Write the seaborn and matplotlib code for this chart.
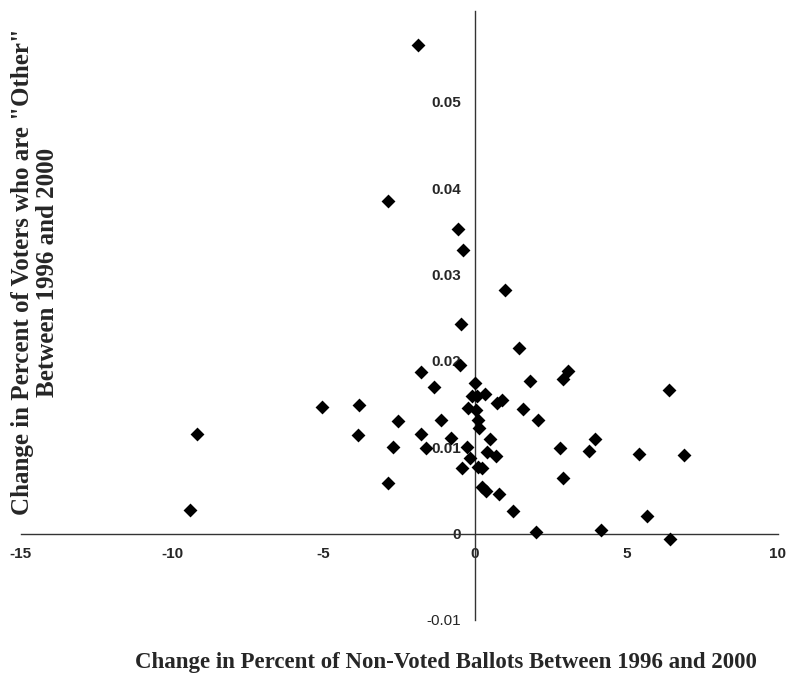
import matplotlib
matplotlib.use("Agg")
import matplotlib.pyplot as plt
import seaborn as sns
import pandas as pd

# change in non-voted ballots (x) vs change in "other" voters (y)
nonvoted_change = [
    -9.41, -9.19, -5.06, -3.83, -3.87, -2.88, -2.70, -2.53, -1.80, -1.80,
    -1.63, -1.36, -1.13, -0.79, -0.50, -0.44, -0.27, -0.17, -0.24, -0.11,
    0.00, 0.05, 0.03, 0.11, 0.13, 0.33, 0.50, 0.38, 0.69, 0.09,
    0.23, 0.22, 0.35, 0.79, 1.24, 0.72, 0.88, 1.45, 1.80, 1.57,
    2.07, 2.80, 2.90, 2.01, 3.08, 2.89, 6.40, 3.97, 3.75, 5.41,
    6.91, 5.69, 4.15, 6.44, -1.87, -2.87, -0.58, -0.41, -0.46, 0.99,
]
other_change = [
    0.0027, 0.0115, 0.0146, 0.0149, 0.0114, 0.0059, 0.0100, 0.0130, 0.0187, 0.0115,
    0.0099, 0.0170, 0.0132, 0.0111, 0.0195, 0.0076, 0.0100, 0.0088, 0.0145, 0.0159,
    0.0174, 0.0159, 0.0143, 0.0132, 0.0122, 0.0162, 0.0110, 0.0094, 0.0090, 0.0077,
    0.0076, 0.0054, 0.0049, 0.0046, 0.0026, 0.0151, 0.0155, 0.0215, 0.0177, 0.0144,
    0.0132, 0.0099, 0.0064, 0.0002, 0.0188, 0.0179, 0.0166, 0.0110, 0.0095, 0.0092,
    0.0091, 0.0020, 0.0004, -0.0006, 0.0566, 0.0385, 0.0353, 0.0328, 0.0243, 0.0282,
]
x_ticks = [-15, -10, -5, 0, 5, 10]
y_ticks = [-0.01, 0, 0.01, 0.02, 0.03, 0.04, 0.05]
y_tick_labels = ["-0.01", "0", "0.01", "0.02", "0.03", "0.04", "0.05"]

df = pd.DataFrame({"x": nonvoted_change, "y": other_change})

sns.set_style("white")
fig = plt.figure(figsize=(7.9, 6.82), dpi=100)
ax = fig.add_axes([0.0262, 0.091, 0.9586, 0.893])

sns.scatterplot(data=df, x="x", y="y", marker="D", s=50, color="black",
                edgecolor="black", linewidth=0, ax=ax, zorder=3, clip_on=False)

ax.set_xlim(-15, 10)
ax.set_ylim(-0.01, 0.0605)

for side in ["top", "right"]:
    ax.spines[side].set_visible(False)
for side in ["left", "bottom"]:
    ax.spines[side].set_position(("data", 0))
    ax.spines[side].set_color("#333333")
    ax.spines[side].set_linewidth(1.0)

ax.set_xticks(x_ticks)
ax.set_xticklabels([str(t) for t in x_ticks])
ax.set_yticks(y_ticks)
ax.set_yticklabels(y_tick_labels)
ax.tick_params(axis="both", direction="out", length=4, width=0.8, color="#333333",
               labelsize=11, pad=6)
for lab in ax.get_xticklabels() + ax.get_yticklabels():
    lab.set_fontfamily("Liberation Sans")
    lab.set_fontweight("bold")
ax.get_yticklabels()[0].set_fontweight("normal")

ax.set_xlabel("")
ax.set_ylabel("")

fig.text(0.565, 0.028, "Change in Percent of Non-Voted Ballots Between 1996 and 2000",
         ha="center", va="center", fontsize=16.5, fontweight="bold",
         family="Liberation Serif")
fig.text(0.044, 0.601, 'Change in Percent of Voters who are "Other"\nBetween 1996 and 2000',
         ha="center", va="center", rotation=90, fontsize=18, fontweight="bold",
         family="Liberation Serif", multialignment="center", linespacing=1.1)

fig.savefig("out.png", dpi=100)
